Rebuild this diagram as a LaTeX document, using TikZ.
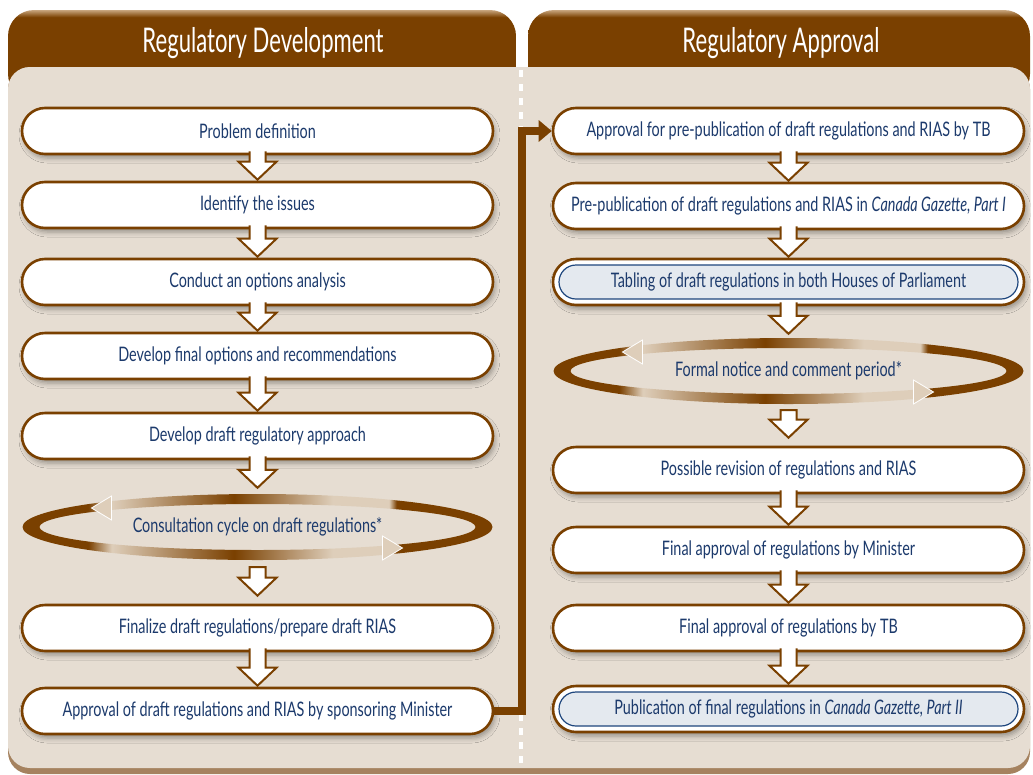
\documentclass[tikz,border=0pt]{standalone}
\usepackage{fontspec}
\setmainfont{Lato}[FakeStretch=0.72]
\newfontfamily\headfont{Lato}[FakeStretch=0.65]
\usetikzlibrary{calc,arrows.meta,shapes.geometric,shadows.blur}

\definecolor{rbrown}{RGB}{122,64,0}
\definecolor{panelbg}{RGB}{230,221,210}
\definecolor{paneledge}{RGB}{165,130,95}
\definecolor{headlight}{RGB}{200,165,125}
\definecolor{txtblue}{RGB}{28,58,108}
\definecolor{hlfill}{RGB}{228,233,239}
\definecolor{hlline}{RGB}{30,70,125}
\definecolor{ringlight}{RGB}{222,206,186}

\pgfdeclarehorizontalshading{ringshade}{100bp}{color(0bp)=(rbrown); color(32bp)=(rbrown); color(34.5bp)=(ringlight); color(47.5bp)=(rbrown); color(58bp)=(ringlight); color(64bp)=(ringlight); color(64.8bp)=(rbrown); color(100bp)=(rbrown)}
\pgfdeclareverticalshading{headshade}{100bp}{color(0bp)=(rbrown); color(71bp)=(rbrown); color(75bp)=(headlight); color(100bp)=(headlight)}

\tikzset{
  stepbox/.style={draw=rbrown, line width=2.6pt, fill=white, rounded corners=23pt,
    minimum width=471pt, minimum height=46pt, inner sep=0pt, text=txtblue,
    font=\fontsize{20}{24}\selectfont,
    blur shadow={shadow xshift=2pt, shadow yshift=-4pt, shadow blur radius=5pt, shadow opacity=35}},
  highbox/.style={stepbox, path picture={\draw[hlline, line width=1.2pt, fill=hlfill, rounded corners=17pt]
    ([shift={(6pt,-6pt)}]path picture bounding box.north west) rectangle
    ([shift={(-6pt,6pt)}]path picture bounding box.south east);}},
  cyclebox/.style={ellipse, minimum width=470pt, minimum height=64pt, inner sep=0pt,
    text=txtblue, font=\fontsize{20}{24}\selectfont},
  headtxt/.style={text=white, font=\headfont\fontsize{34}{40}\selectfont},
  blockarr/.style={fill=white, draw=rbrown, line width=2pt, line join=miter},
  linkline/.style={draw=rbrown, line width=8pt, line join=miter, -{Triangle[length=13pt,width=21pt]}}
}

\newcommand{\flowarr}[3][1]{%
  \filldraw[blockarr] ($(#2.south)+(-8,-4)$) -- ($(#3.north)+(-8,-#1-18)$) -- ($(#3.north)+(-19,-#1-18)$)
    -- ($(#3.north)+(0,-#1)$) -- ($(#3.north)+(19,-#1-18)$) -- ($(#3.north)+(8,-#1-18)$) -- ($(#2.south)+(8,-4)$);}
\newcommand{\loopout}[3][8]{%
  \filldraw[blockarr] ($(#2.south)+(-8,#1)$) -- ($(#3.north)+(-8,-26)$) -- ($(#3.north)+(-19,-26)$)
    -- ($(#3.north)+(0,-8)$) -- ($(#3.north)+(19,-26)$) -- ($(#3.north)+(8,-26)$) -- ($(#2.south)+(8,#1)$) -- cycle;}
\newcommand{\ringloop}[1]{%
  \shade[shading=ringshade, even odd rule] (#1.center) ellipse [x radius=235pt, y radius=33pt]
    (#1.center) ellipse [x radius=218pt, y radius=23pt];
  \filldraw[fill=ringlight, draw=white, line width=0.8pt] ($(#1.center)+(-166,-19)$) -- ($(#1.center)+(-146,-31)$) -- ($(#1.center)+(-146,-7)$) -- cycle;
  \filldraw[fill=ringlight, draw=white, line width=0.8pt] ($(#1.center)+(145,21)$) -- ($(#1.center)+(125,9)$) -- ($(#1.center)+(125,33)$) -- cycle;}

\begin{document}
\begin{tikzpicture}[x=1pt,y=-1pt]
  \useasboundingbox (0,0) rectangle (1033,774);
  \shade[shading=headshade, rounded corners=26pt] (8,10) rectangle (516,100);
  \shade[shading=headshade, rounded corners=26pt] (528,10) rectangle (1030,100);
  \fill[paneledge, rounded corners=22pt] (8,67) rectangle (1030,774);
  \fill[panelbg, rounded corners=22pt] (8,67) rectangle (1030,768);
  \draw[white, line width=4pt, dash pattern=on 7pt off 7pt] (521,70) -- (521,770);
  \node[headtxt] (devhead) at (263,43) {Regulatory Development};
  \node[headtxt] (apphead) at (781,43) {Regulatory Approval};

  \node[stepbox] (probdef) at (257.5,131) {Problem definition};
  \node[stepbox] (issues) at (257.5,205) {Identify the issues};
  \node[stepbox] (options) at (257.5,282) {Conduct an options analysis};
  \node[stepbox] (finalopt) at (257.5,356) {Develop final options and recommendations};
  \node[stepbox] (draftappr) at (257.5,436) {Develop draft regulatory approach};
  \node[cyclebox] (consult) at (257.5,527) {Consultation cycle on draft regulations*};
  \ringloop{consult}
  \node[stepbox] (finalize) at (257.5,628) {Finalize draft regulations/prepare draft RIAS};
  \node[stepbox] (apprmin) at (257.5,711) {Approval of draft regulations and RIAS by sponsoring Minister};

  \node[stepbox] (prepubtb) at (788.5,131) {Approval for pre-publication of draft regulations and RIAS by TB};
  \node[stepbox] (prepub) at (788.5,206) {Pre-publication of draft regulations and RIAS in \textit{Canada Gazette, Part I}};
  \node[highbox] (tabling) at (788.5,282) {Tabling of draft regulations in both Houses of Parliament};
  \node[cyclebox] (notice) at (788.5,371) {Formal notice and comment period*};
  \ringloop{notice}
  \node[stepbox] (revision) at (788.5,470) {Possible revision of regulations and RIAS};
  \node[stepbox] (minfinal) at (788.5,550) {Final approval of regulations by Minister};
  \node[stepbox] (tbfinal) at (788.5,628) {Final approval of regulations by TB};
  \node[highbox] (publish) at (788.5,709) {Publication of final regulations in \textit{Canada Gazette, Part II}};

  \flowarr{probdef}{issues}
  \flowarr{issues}{options}
  \flowarr{options}{finalopt}
  \flowarr{finalopt}{draftappr}
  \flowarr[7]{draftappr}{consult}
  \loopout{consult}{finalize}
  \flowarr{finalize}{apprmin}
  \flowarr{prepubtb}{prepub}
  \flowarr{prepub}{tabling}
  \flowarr[5]{tabling}{notice}
  \loopout[7]{notice}{revision}
  \flowarr{revision}{minfinal}
  \flowarr{minfinal}{tbfinal}
  \flowarr{tbfinal}{publish}

  \coordinate (bend) at (522,400);
  \draw[linkline] (apprmin.east) -- (apprmin.east -| bend) |- (prepubtb.west);
\end{tikzpicture}
\end{document}
